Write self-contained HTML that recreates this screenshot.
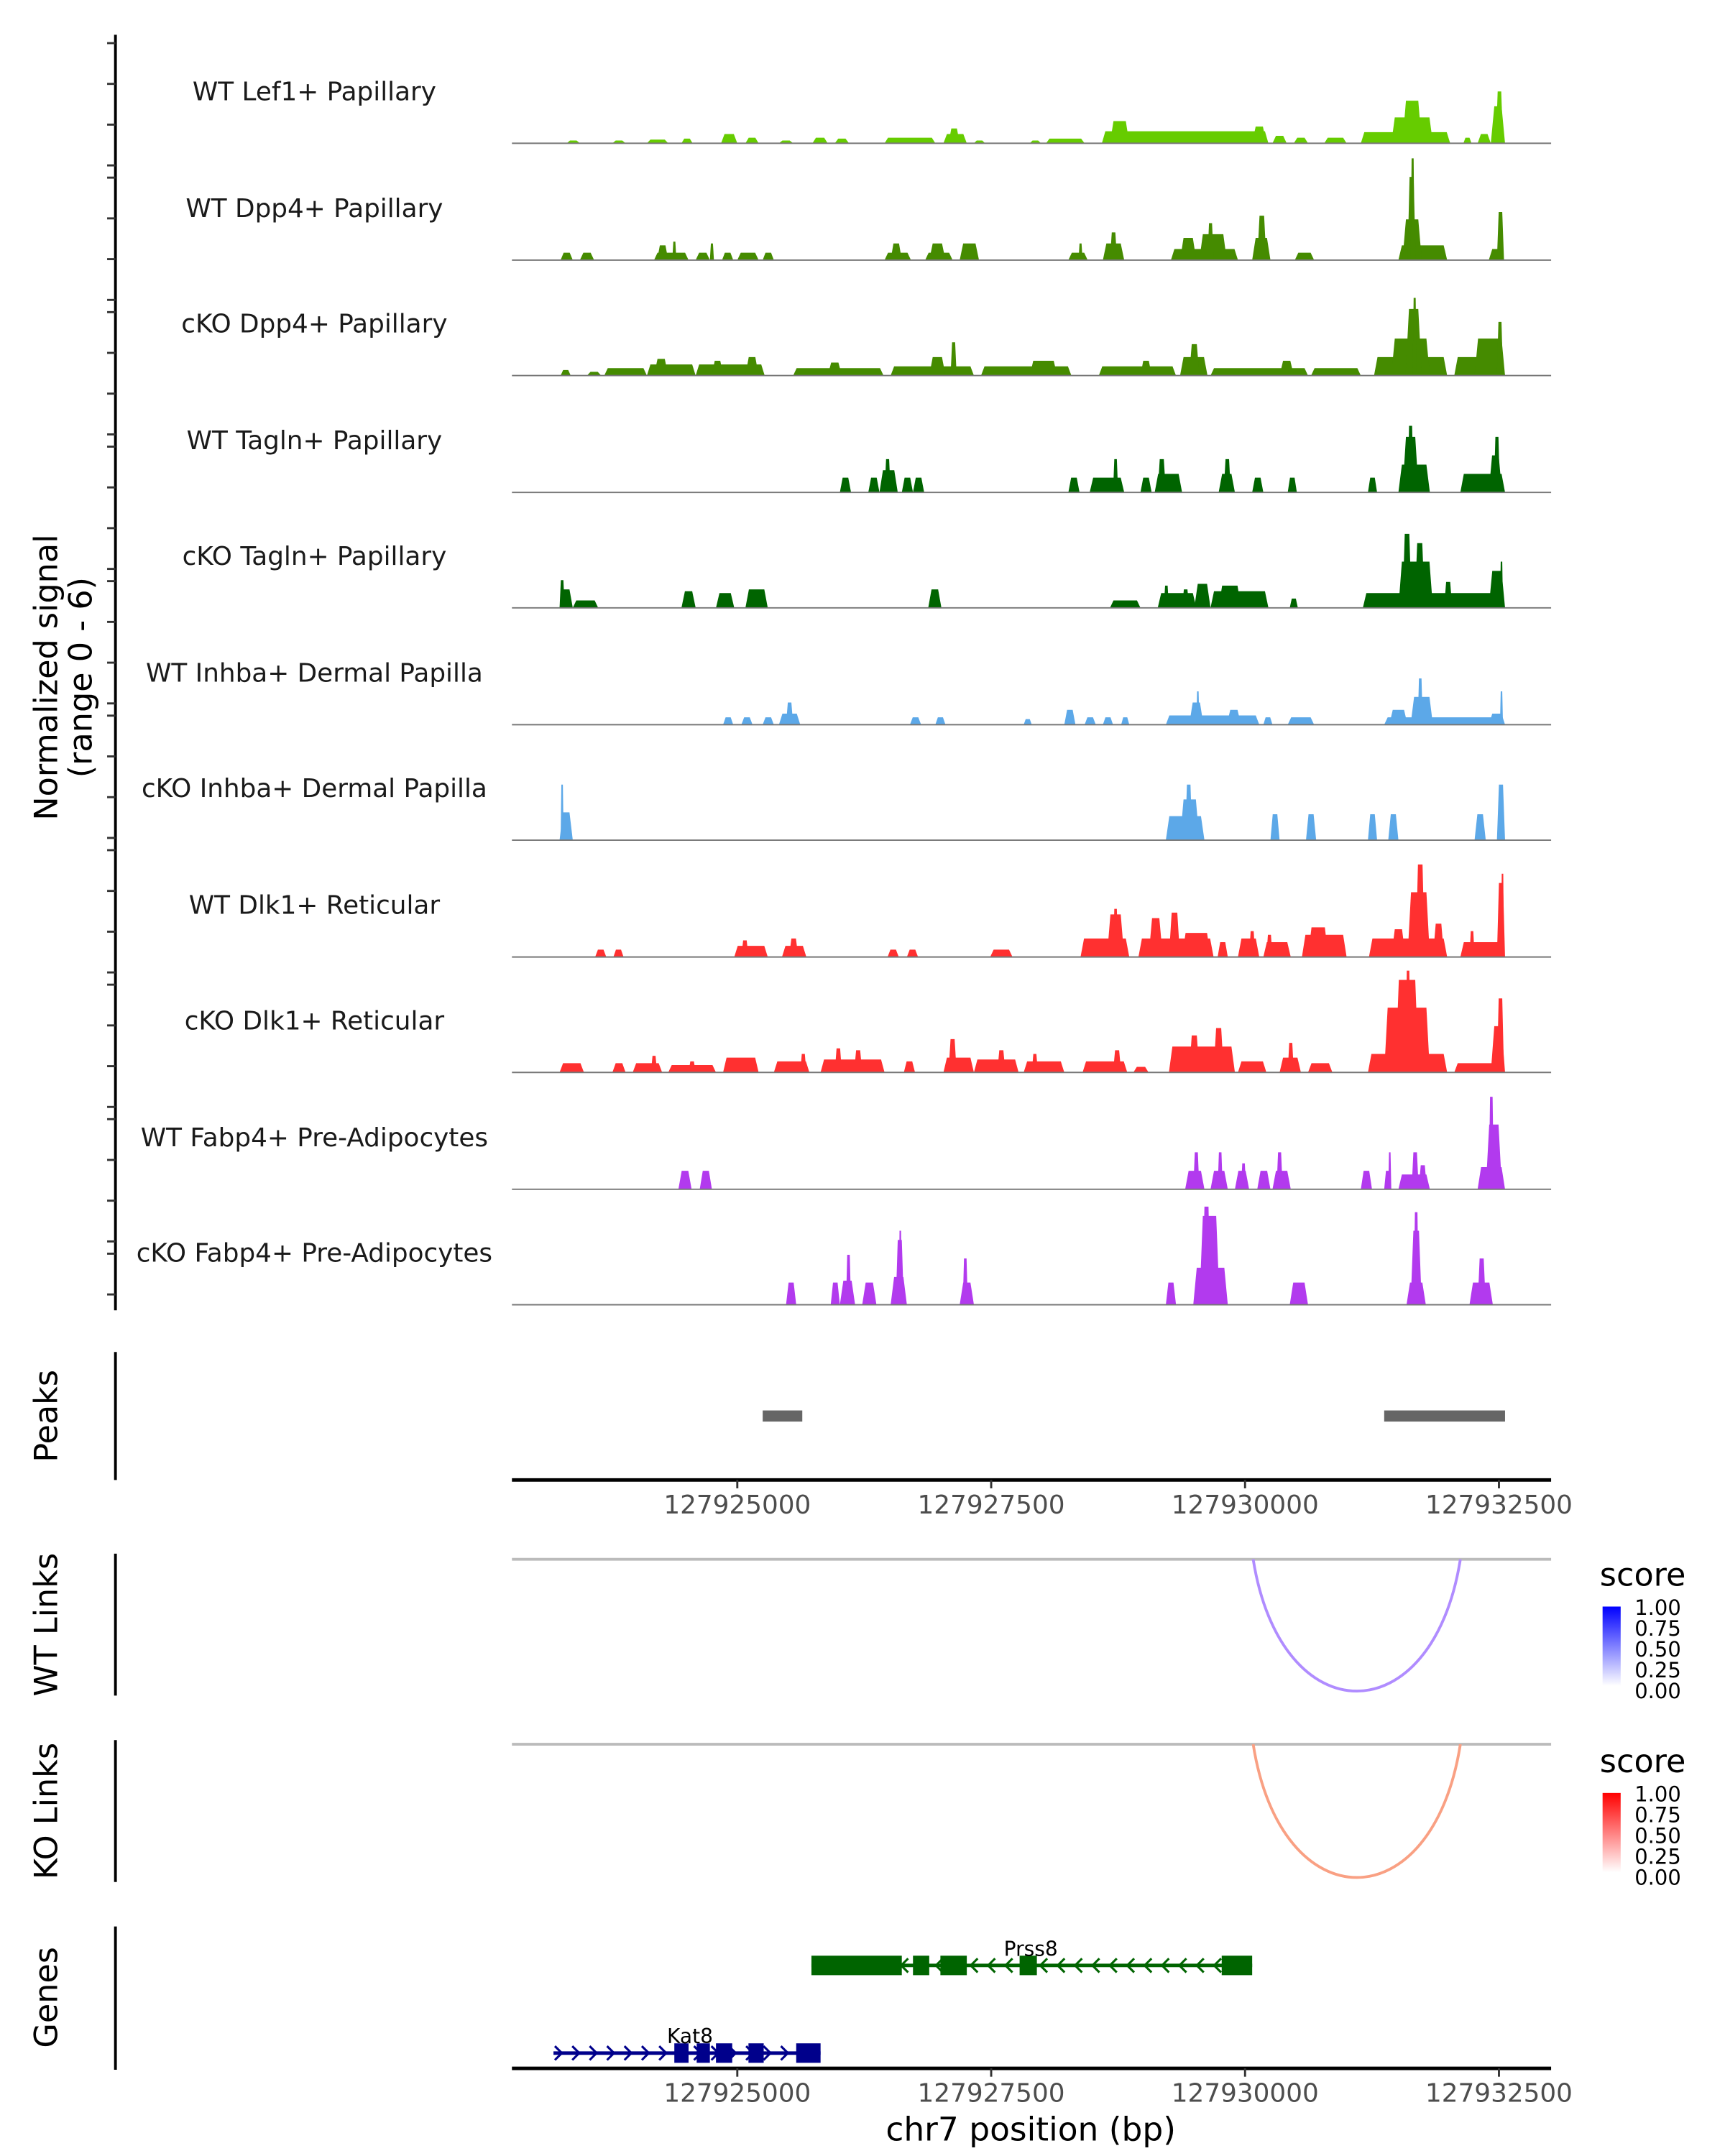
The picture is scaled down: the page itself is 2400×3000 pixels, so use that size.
<!DOCTYPE html>
<html><head><meta charset="utf-8"><style>
html,body{margin:0;padding:0;background:#fff}
svg{display:block}
text{font-family:"DejaVu Sans","Liberation Sans",sans-serif}
</style></head><body>
<svg id="chart" xmlns="http://www.w3.org/2000/svg" width="2400" height="3000" viewBox="0 0 1240 1550">
<g id="tracks"></g>
<g id="axes"></g>
<text transform="translate(41,487) rotate(-90)" text-anchor="middle" font-size="23" fill="#000">Normalized signal</text>
<text transform="translate(66,487) rotate(-90)" text-anchor="middle" font-size="23" fill="#000">(range 0 - 6)</text>
<text transform="translate(41,1018) rotate(-90)" text-anchor="middle" font-size="23">Peaks</text>
<text transform="translate(41,1168) rotate(-90)" text-anchor="middle" font-size="23">WT Links</text>
<text transform="translate(41,1302) rotate(-90)" text-anchor="middle" font-size="23">KO Links</text>
<text transform="translate(41,1436) rotate(-90)" text-anchor="middle" font-size="23">Genes</text>
<text x="741" y="1539" text-anchor="middle" font-size="23.5">chr7 position (bp)</text>
<defs>
<linearGradient id="gBlue" x1="0" y1="1" x2="0" y2="0"><stop offset="0" stop-color="#fff"/><stop offset="1" stop-color="#0000ff"/></linearGradient>
<linearGradient id="gRed" x1="0" y1="1" x2="0" y2="0"><stop offset="0" stop-color="#fff"/><stop offset="1" stop-color="#ff0000"/></linearGradient>
</defs>
<g>
<text x="1150" y="1140" font-size="23">score</text>
<rect x="1152" y="1155" width="13" height="57" fill="url(#gBlue)"/>
<text x="1175" y="1161" font-size="15">1.00</text><text x="1175" y="1176" font-size="15">0.75</text><text x="1175" y="1191" font-size="15">0.50</text><text x="1175" y="1206" font-size="15">0.25</text><text x="1175" y="1221" font-size="15">0.00</text>
</g>
<g>
<text x="1150" y="1274" font-size="23">score</text>
<rect x="1152" y="1289" width="13" height="57" fill="url(#gRed)"/>
<text x="1175" y="1295" font-size="15">1.00</text><text x="1175" y="1310" font-size="15">0.75</text><text x="1175" y="1325" font-size="15">0.50</text><text x="1175" y="1340" font-size="15">0.25</text><text x="1175" y="1355" font-size="15">0.00</text>
</g>
<g id="lower"></g>
</svg>
<script>
// positions in kb relative to chr7:127,920,000 ; segments = [startKb, endKb, signal]
const ORIGIN = 127920000;
const trackNames = ["WT Lef1+ Papillary","WT Dpp4+ Papillary","cKO Dpp4+ Papillary","WT Tagln+ Papillary","cKO Tagln+ Papillary","WT Inhba+ Dermal Papilla","cKO Inhba+ Dermal Papilla","WT Dlk1+ Reticular","cKO Dlk1+ Reticular","WT Fabp4+ Pre-Adipocytes","cKO Fabp4+ Pre-Adipocytes"];
const trackColors = ["#66CC00","#458B00","#458B00","#006400","#006400","#5CA8E8","#5CA8E8","#FF3030","#FF3030","#B23AEE","#B23AEE"];
const lef1WT = [[3.32,3.45,0.15],[3.77,3.90,0.15],[4.11,4.32,0.2],[4.45,4.56,0.25],[4.84,5.00,0.5],[5.08,5.21,0.3],[5.41,5.55,0.15],[5.74,5.89,0.3],[5.96,6.10,0.25],[6.45,6.95,0.3],[7.03,7.26,0.5],[7.08,7.19,0.8],[7.33,7.44,0.15],[7.88,7.99,0.15],[8.04,8.42,0.25],[8.59,10.23,0.65],[8.67,8.86,1.2],[10.07,10.21,0.9],[10.27,10.41,0.4],[10.48,10.62,0.3],[10.78,11.00,0.3],[11.14,12.02,0.6],[11.44,11.85,1.4],[11.55,11.74,2.3],[12.15,12.23,0.3],[12.29,12.42,0.5],[12.42,12.56,2.0],[12.47,12.54,2.8]];
const dpp4WT = [[3.26,3.38,0.4],[3.45,3.59,0.4],[4.18,4.52,0.4],[4.21,4.32,0.8],[4.36,4.40,1.0],[4.59,4.73,0.4],[4.73,4.77,0.9],[4.85,4.96,0.4],[5.00,5.21,0.4],[5.25,5.36,0.4],[6.45,6.71,0.4],[6.51,6.62,0.9],[6.85,7.12,0.4],[6.89,7.05,0.9],[7.19,7.38,0.9],[8.26,8.45,0.4],[8.36,8.40,0.9],[8.60,8.81,0.9],[8.67,8.74,1.5],[9.27,9.93,0.6],[9.36,9.52,1.2],[9.55,9.82,1.4],[9.63,9.69,2.0],[10.07,10.25,1.2],[10.12,10.21,2.4],[10.49,10.68,0.4],[11.51,11.99,0.8],[11.55,11.74,2.2],[11.60,11.68,4.5],[11.63,11.67,5.5],[12.40,12.55,0.6],[12.48,12.55,2.6]];
const dpp4KO = [[3.26,3.36,0.3],[3.52,3.66,0.2],[3.69,4.11,0.4],[4.11,4.59,0.6],[4.18,4.32,0.9],[4.59,5.27,0.6],[4.75,4.86,0.8],[5.08,5.21,1.0],[5.55,6.44,0.4],[5.89,6.03,0.7],[6.51,7.33,0.5],[6.89,7.05,1.0],[7.10,7.16,1.8],[7.40,8.29,0.5],[7.88,8.15,0.8],[8.56,9.32,0.5],[8.97,9.08,0.8],[9.36,9.63,1.0],[9.45,9.55,1.7],[9.66,10.62,0.4],[10.34,10.48,0.8],[10.65,11.14,0.4],[11.27,11.99,1.0],[11.44,11.82,2.0],[11.58,11.74,3.6],[11.65,11.69,4.2],[12.06,12.56,1.0],[12.26,12.56,2.0],[12.48,12.54,2.9]];
const taglnWT = [[6.01,6.12,0.8],[6.29,6.40,0.8],[6.40,6.58,1.2],[6.45,6.51,1.8],[6.62,6.73,0.8],[6.73,6.84,0.8],[8.26,8.37,0.8],[8.47,8.81,0.8],[8.70,8.75,1.8],[8.97,9.08,0.8],[9.11,9.38,1.0],[9.14,9.22,1.8],[9.74,9.90,1.0],[9.79,9.86,1.8],[10.07,10.18,0.8],[10.42,10.51,0.8],[11.21,11.30,0.8],[11.51,11.82,1.5],[11.55,11.71,3.0],[11.60,11.66,3.6],[12.12,12.56,1.0],[12.40,12.53,2.0],[12.45,12.51,3.0]];
const taglnKO = [[3.25,3.38,1.0],[3.25,3.30,1.5],[3.38,3.63,0.4],[4.45,4.59,0.9],[4.79,4.97,0.8],[5.08,5.30,1.0],[6.88,7.01,1.0],[8.67,8.97,0.4],[9.14,9.52,0.8],[9.38,9.45,1.0],[9.20,9.25,1.2],[9.50,9.66,1.3],[9.66,10.23,0.9],[9.74,9.96,1.2],[10.44,10.52,0.5],[11.16,12.56,0.8],[11.51,11.85,2.5],[11.55,11.64,4.0],[11.67,11.77,3.5],[11.96,12.04,1.4],[12.40,12.56,2.0],[12.51,12.54,2.5]];
const inhbaWT = [[4.86,4.96,0.4],[5.04,5.15,0.4],[5.25,5.36,0.4],[5.41,5.62,0.6],[5.48,5.55,1.2],[6.70,6.81,0.4],[6.95,7.05,0.4],[7.82,7.90,0.3],[8.22,8.33,0.8],[8.42,8.53,0.4],[8.60,8.70,0.4],[8.78,8.86,0.4],[9.22,10.14,0.5],[9.45,9.59,1.2],[9.52,9.55,1.8],[9.82,9.96,0.8],[10.18,10.27,0.4],[10.42,10.68,0.4],[11.37,12.56,0.4],[11.42,11.60,0.8],[11.63,11.85,1.5],[11.70,11.75,2.5],[12.40,12.56,0.6],[12.51,12.54,1.8]];
const inhbaKO = [[3.25,3.38,1.5],[3.26,3.29,3.0],[9.22,9.60,1.3],[9.36,9.55,2.2],[9.41,9.48,3.0],[10.25,10.34,1.4],[10.60,10.70,1.4],[11.21,11.30,1.4],[11.41,11.51,1.4],[12.26,12.37,1.4],[12.48,12.56,3.0]];
const dlk1WT = [[3.60,3.71,0.4],[3.78,3.88,0.4],[4.97,5.30,0.6],[5.04,5.11,0.9],[5.44,5.68,0.6],[5.51,5.60,1.0],[6.48,6.59,0.4],[6.67,6.78,0.4],[7.49,7.71,0.4],[8.38,8.86,1.0],[8.64,8.81,2.3],[8.70,8.75,2.6],[8.95,9.69,1.0],[9.05,9.19,2.1],[9.25,9.36,2.4],[9.38,9.66,1.3],[9.73,9.83,0.8],[9.93,10.14,1.0],[10.04,10.10,1.4],[10.18,10.45,0.8],[10.21,10.27,1.2],[10.56,11.00,1.2],[10.62,10.82,1.6],[11.22,11.99,1.0],[11.44,11.58,1.5],[11.60,11.82,3.5],[11.68,11.77,5.0],[11.85,11.96,1.8],[12.12,12.56,0.8],[12.21,12.26,1.4],[12.48,12.56,4.0],[12.52,12.55,4.5]];
const dlk1KO = [[3.25,3.49,0.5],[3.77,3.90,0.5],[3.97,4.26,0.5],[4.15,4.21,0.9],[4.32,4.79,0.4],[4.52,4.59,0.6],[4.86,5.21,0.8],[5.36,5.71,0.6],[5.62,5.68,1.0],[5.82,6.45,0.7],[5.96,6.03,1.3],[6.15,6.23,1.2],[6.64,6.75,0.6],[7.03,7.33,0.8],[7.08,7.16,1.8],[7.33,7.77,0.7],[7.56,7.64,1.2],[7.82,8.22,0.6],[7.90,7.96,1.0],[8.40,8.84,0.6],[8.70,8.78,1.2],[8.90,9.05,0.3],[9.25,9.90,1.4],[9.45,9.55,2.0],[9.69,9.79,2.4],[9.93,10.21,0.6],[10.34,10.55,0.8],[10.42,10.48,1.6],[10.62,10.86,0.5],[11.21,11.99,1.0],[11.37,11.82,3.5],[11.48,11.71,5.0],[11.58,11.63,5.5],[12.06,12.56,0.5],[12.42,12.56,2.5],[12.48,12.55,4.0]];
const fabp4WT = [[4.42,4.55,1.0],[4.63,4.75,1.0],[9.41,9.60,1.0],[9.49,9.55,2.0],[9.66,9.83,1.0],[9.73,9.78,2.0],[9.90,10.04,1.0],[9.96,10.01,1.4],[10.12,10.25,1.0],[10.27,10.45,1.0],[10.31,10.37,2.0],[11.14,11.25,1.0],[11.37,11.44,1.0],[11.41,11.44,2.0],[11.51,11.82,0.8],[11.64,11.71,2.0],[11.71,11.79,1.3],[12.29,12.56,1.2],[12.37,12.53,3.5],[12.40,12.45,5.0]];
const fabp4KO = [[5.48,5.58,1.2],[5.92,6.01,1.2],[6.01,6.16,1.3],[6.07,6.12,2.7],[6.23,6.37,1.2],[6.51,6.67,1.5],[6.56,6.64,3.5],[6.59,6.62,4.0],[7.19,7.33,1.2],[7.22,7.27,2.5],[9.22,9.32,1.2],[9.49,9.83,2.0],[9.55,9.75,4.8],[9.58,9.66,5.3],[10.44,10.62,1.2],[11.59,11.78,1.2],[11.63,11.74,4.0],[11.66,11.71,5.0],[12.21,12.44,1.2],[12.29,12.37,2.5]];
const trackData = [lef1WT,dpp4WT,dpp4KO,taglnWT,taglnKO,inhbaWT,inhbaKO,dlk1WT,dlk1KO,fabp4WT,fabp4KO];
const peakStarts = [5.25, 11.37];
const peakEnds = [5.64, 12.56];
const xTickLabels = [127925000,127927500,127930000,127932500];
const linkWT = [10.08, 12.12];
const linkKO = [10.08, 12.12];
const prss8Exons = [[5.73,6.62],[6.73,6.89],[7.00,7.26],[7.78,7.95],[9.77,10.07]];
const prss8Span = [5.73, 10.07];
const kat8Exons = [[4.38,4.52],[4.60,4.73],[4.79,4.95],[5.11,5.26],[5.58,5.82]];
const kat8Span = [3.19, 5.82];

const NS = "http://www.w3.org/2000/svg";
const X0 = 368, X1 = 1115;
function xs(kb){ const bp = ORIGIN + kb*1000; return 530 + (bp - 127925000) * 0.073; }
function ys(v){ return v * 13.3; }
function mk(tag, attrs, parent){ const e = document.createElementNS(NS, tag); for (const k in attrs) e.setAttribute(k, attrs[k]); parent.appendChild(e); return e; }

const tracksG = document.getElementById('tracks');
const baselines = [103,187,270,354,437,521,604,688,771,855,938];
trackData.forEach((segs, i) => {
  const b = baselines[i];
  const g = mk('g', {}, tracksG);
  
  
  const lbl = mk('text', {x:226, y:b-31, 'text-anchor':'middle', 'font-size':'18.5', fill:'#1a1a1a'}, g);
  lbl.textContent = trackNames[i];
  
  
  segs.forEach(s => {
    const x1 = xs(s[0]), x2 = xs(s[1]), h = ys(s[2]);
    const sl = Math.min(2.5, (x2 - x1) / 4);
    const p = mk('polygon', {points: `${x1},${b} ${x1+sl},${b-h} ${x2-sl},${b-h} ${x2},${b}`, fill: trackColors[i]}, g);
    
    
  });
  const bl = mk('line', {x1:X0, x2:X1, y1:b, y2:b, stroke:'#777', 'stroke-width':1}, g);
  
  
});

const axesG = document.getElementById('axes');
const yl = mk('line', {x1:83, x2:83, y1:25, y2:942, stroke:'#000', 'stroke-width':2}, axesG);


for (let gi = 0; gi < 10; gi++) {
  for (let k = 0; k < 4; k++) {
    const y = 31 + gi*96.7 + k*29.3;
    if (y > 942) continue;
    const t = mk('line', {x1:77, x2:83, y1:y, y2:y, stroke:'#333', 'stroke-width':1.5}, axesG);
    
    
  }
}

const low = document.getElementById('lower');
[[972,1064],[1117,1219],[1251,1353],[1385,1488]].forEach(r => {
  const l = mk('line', {x1:83, x2:83, y1:r[0], y2:r[1], stroke:'#000', 'stroke-width':2}, low);
  
  
});
peakStarts.forEach((s, i) => {
  const r = mk('rect', {x:xs(s), y:1014, width:xs(peakEnds[i])-xs(s), height:8, fill:'#666'}, low);
  
  
});
function xAxis(y){
  const l = mk('line', {x1:X0, x2:X1, y1:y, y2:y, stroke:'#000', 'stroke-width':2.5}, low);
  
  
  xTickLabels.forEach(v => {
    const x = xs((v - ORIGIN)/1000);
    const t = mk('line', {x1:x, x2:x, y1:y, y2:y+6, stroke:'#333', 'stroke-width':1.5}, low);
    
    
    const tx = mk('text', {x:x, y:y+24, 'text-anchor':'middle', 'font-size':'18.5', fill:'#4d4d4d'}, low);
    tx.textContent = v;
    
    
  });
}
xAxis(1064); xAxis(1487);

function linkPanel(y, link, color, depth){
  const l = mk('line', {x1:X0, x2:X1, y1:y, y2:y, stroke:'#bbb', 'stroke-width':2}, low);
  
  
  const a = xs(link[0]), b = xs(link[1]);
  const p = mk('path', {d:`M${a},${y} C${a+20},${y+depth*1.33} ${b-20},${y+depth*1.33} ${b},${y}`, fill:'none', stroke:color, 'stroke-width':2}, low);
  
  
}
linkPanel(1121, linkWT, '#B08CFF', 95);
linkPanel(1254, linkKO, '#F9A083', 96);

function gene(name, span, exons, y, color, dir, labelX){
  const g = mk('g', {}, low);
  
  
  mk('line', {x1:xs(span[0]), x2:xs(span[1]), y1:y, y2:y, stroke:color, 'stroke-width':2.5}, g);
  for (let x = xs(span[0]) + 4; x < xs(span[1]) - 4; x += 12.5) {
    const d = dir > 0 ? `M${x-3},${y-5} L${x+2},${y} L${x-3},${y+5}` : `M${x+3},${y-5} L${x-2},${y} L${x+3},${y+5}`;
    mk('path', {d:d, fill:'none', stroke:color, 'stroke-width':1.6}, g);
  }
  exons.forEach(e => mk('rect', {x:xs(e[0]), y:y-7, width:xs(e[1])-xs(e[0]), height:14, fill:color}, g));
  const t = mk('text', {x:labelX, y:y-7, 'text-anchor':'middle', 'font-size':'14.5', fill:'#000'}, g);
  t.textContent = name;
  
  
}
gene('Prss8', prss8Span, prss8Exons, 1413, '#006400', -1, 741);
gene('Kat8', kat8Span, kat8Exons, 1476, '#00008B', 1, 496);
</script>
</body></html>
